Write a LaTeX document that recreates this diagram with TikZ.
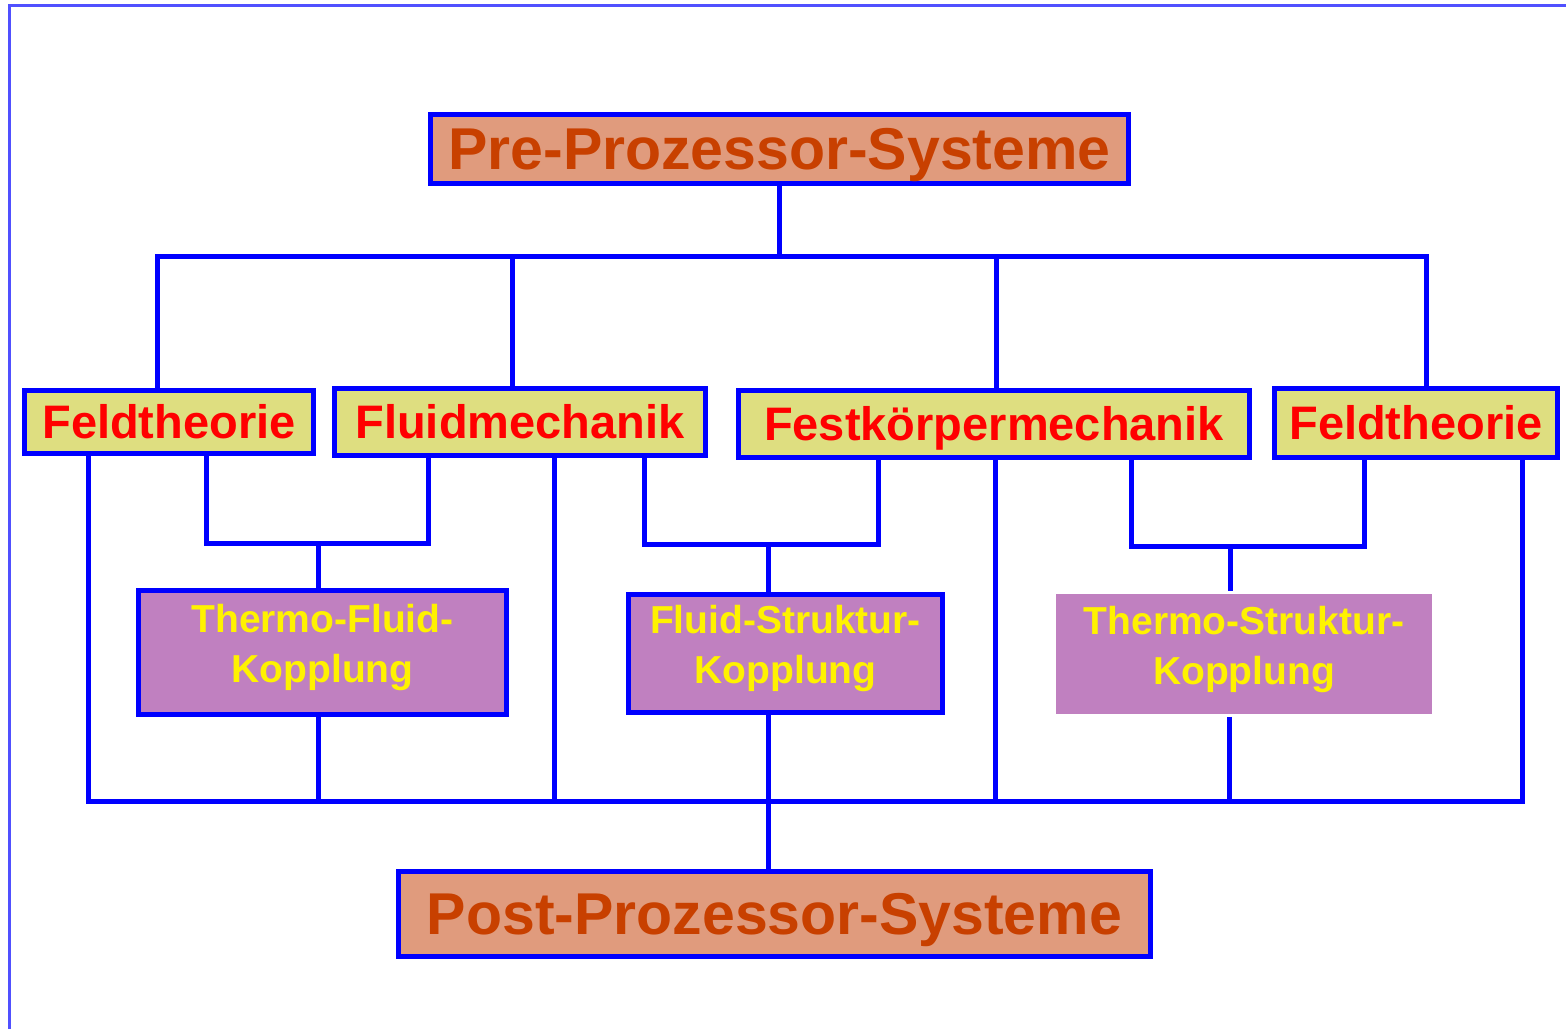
\documentclass[tikz,border=0pt]{standalone}
\usepackage{fontspec}
\setmainfont{Liberation Sans}
\definecolor{salmon}{RGB}{224,155,125}
\definecolor{rust}{RGB}{200,64,0}
\definecolor{khaki}{RGB}{222,222,128}
\definecolor{orchid}{RGB}{192,128,192}
\definecolor{framebl}{RGB}{80,80,255}
\newcommand{\lowstrut}{\rule[-18pt]{0pt}{0pt}}
\begin{document}
\begin{tikzpicture}[x=1pt,y=-1pt,
  box/.style={draw=blue, line width=5.5pt, inner sep=0pt, align=center},
  sysbox/.style={box, fill=salmon, text=rust, font=\fontsize{59}{60}\selectfont\bfseries, text height=40pt, text depth=0pt},
  fieldbox/.style={box, fill=khaki, text=red, font=\fontsize{47}{50}\selectfont\bfseries, text height=33pt, text depth=0pt},
  coupbox/.style={box, fill=orchid, text=yellow, font=\fontsize{39}{50}\selectfont\bfseries},
  conn/.style={draw=blue, line width=5pt},
]
\useasboundingbox (0,0) rectangle (1566,1029);
\fill[white] (0,0) rectangle (1566,1029);
% frame
\draw[framebl, line width=2.5pt] (9.5,1029) -- (9.5,5.5) -- (1566,5.5);

% boxes
\node[sysbox, minimum width=698pt, minimum height=69pt] (pre) at (779.5,149) {Pre-Prozessor-Systeme};
\node[fieldbox, minimum width=289pt, minimum height=63pt] (feld1) at (169,422) {Feldtheorie};
\node[fieldbox, minimum width=371pt, minimum height=67pt] (fluid) at (520,422) {Fluidmechanik};
\node[fieldbox, minimum width=511pt, minimum height=67pt] (fest) at (994,424) {Festkörpermechanik};
\node[fieldbox, minimum width=283pt, minimum height=69pt] (feld2) at (1416,423) {Feldtheorie};
\node[coupbox, minimum width=368pt, minimum height=124pt] (tf) at (322.5,652.5) {Thermo-Fluid-\\Kopplung\lowstrut};
\node[coupbox, minimum width=314pt, minimum height=118pt] (fs) at (785.5,653.5) {Fluid-Struktur-\\Kopplung\lowstrut};
\node[coupbox, draw=none, minimum width=376pt, minimum height=120pt] (ts) at (1244,654) {Thermo-Struktur-\\Kopplung\lowstrut};
\node[sysbox, minimum width=752pt, minimum height=85pt] (post) at (774.5,914) {Post-Prozessor-Systeme};

% top distribution bus
\coordinate (tl) at (157,256);
\coordinate (t2) at (512,256);
\coordinate (t3) at (996,256);
\coordinate (tr) at (1426,256);
\draw[conn] (pre.south) -- (pre.south |- tl);
\draw[conn] (feld1.north -| tl) |- (tr) -- (feld2.north -| tr);
\draw[conn] (t2) -- (fluid.north -| t2);
\draw[conn] (t3) -- (fest.north -| t3);

% coupling forks
\coordinate (c1a) at (206,543);
\coordinate (c1j) at (318,543);
\coordinate (c1b) at (428,543);
\draw[conn] (feld1.south -| c1a) |- (c1b) -- (fluid.south -| c1b);
\draw[conn] (c1j) -- (tf.north -| c1j);

\coordinate (c2a) at (644,544);
\coordinate (c2j) at (768,544);
\coordinate (c2b) at (878,544);
\draw[conn] (fluid.south -| c2a) |- (c2b) -- (fest.south -| c2b);
\draw[conn] (c2j) -- (fs.north -| c2j);

\coordinate (c3a) at (1131,546);
\coordinate (c3j) at (1230,546);
\coordinate (c3b) at (1364,546);
\draw[conn] (fest.south -| c3a) |- (c3b) -- (feld2.south -| c3b);
\draw[conn] (c3j) -- (ts.north -| c3j);

% bottom collecting bus
\coordinate (bl) at (88,801);
\coordinate (b2) at (554,801);
\coordinate (b3) at (318,801);
\coordinate (b4) at (995,801);
\coordinate (b5) at (1229,801);
\coordinate (br) at (1522,801);
\coordinate (bp) at (768,801);
\draw[conn] (feld1.south -| bl) |- (br) -- (feld2.south -| br);
\draw[conn] (fluid.south -| b2) -- (b2);
\draw[conn] (tf.south -| b3) -- (b3);
\draw[conn] (fest.south -| b4) -- (b4);
\draw[conn] (ts.south -| b5) -- (b5);
\draw[conn] (fs.south -| bp) -- (post.north -| bp);
\end{tikzpicture}
\end{document}
